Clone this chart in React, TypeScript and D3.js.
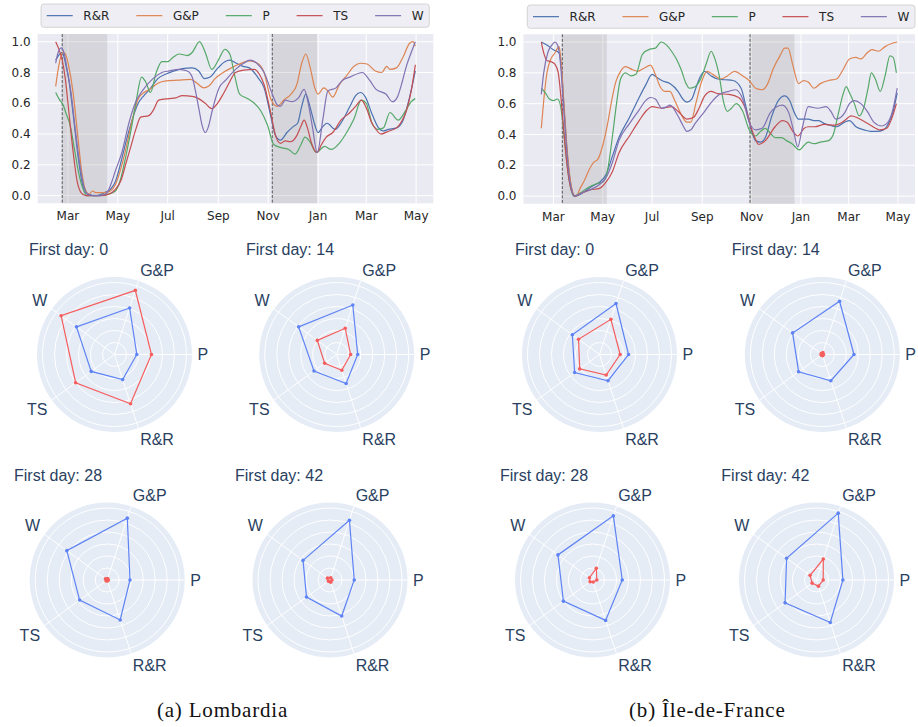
import React from "react";
import * as d3 from "d3";

// day offsets are counted from 1 March 2020
const t0 = new Date(2020, 2, 1);
const series = ["R&R", "G&P", "P", "TS", "W"];
const lineColors = ["#4C72B0", "#DD8452", "#55A868", "#C44E52", "#8172B3"];

type Pt = [number, number];

// ---- Lombardia mobility series ----
const lomRR: Pt[] = [[-15,0.88],[-10,0.92],[-7,0.93],[-3,0.86],[2,0.72],[7,0.5],[12,0.27],[18,0.07],[24,0.01],[35,0.0],[45,0.02],[52,0.04],[58,0.09],[65,0.22],[72,0.37],[79,0.5],[86,0.6],[93,0.65],[100,0.69],[110,0.76],[120,0.79],[130,0.81],[140,0.825],[152,0.83],[160,0.81],[167,0.76],[174,0.77],[182,0.82],[192,0.87],[198,0.88],[206,0.86],[214,0.84],[222,0.83],[232,0.77],[240,0.7],[248,0.52],[254,0.39],[260,0.36],[268,0.41],[276,0.45],[281,0.47],[286,0.58],[291,0.66],[296,0.58],[302,0.46],[306,0.41],[312,0.45],[317,0.47],[327,0.43],[335,0.48],[345,0.58],[352,0.65],[358,0.67],[364,0.64],[372,0.53],[380,0.44],[386,0.42],[392,0.43],[402,0.44],[410,0.49],[418,0.64],[425,0.81]];
const lomGP: Pt[] = [[-15,0.71],[-11,0.85],[-6,0.93],[-3,0.92],[1,0.84],[6,0.68],[11,0.44],[17,0.15],[22,0.03],[26,0.01],[30,0.03],[34,0.02],[45,0.02],[52,0.03],[58,0.07],[65,0.18],[72,0.33],[79,0.5],[86,0.63],[93,0.67],[100,0.69],[110,0.73],[120,0.745],[135,0.75],[150,0.755],[158,0.73],[166,0.7],[172,0.71],[180,0.76],[190,0.8],[200,0.83],[210,0.855],[222,0.875],[232,0.86],[240,0.8],[248,0.63],[256,0.58],[264,0.62],[273,0.66],[280,0.72],[286,0.86],[291,0.92],[296,0.84],[302,0.7],[306,0.66],[313,0.7],[318,0.68],[324,0.64],[332,0.72],[341,0.78],[350,0.84],[358,0.86],[366,0.855],[376,0.81],[384,0.8],[390,0.84],[394,0.82],[402,0.83],[410,0.9],[418,0.99],[422,1.0],[425,0.97]];
const lomP: Pt[] = [[-15,0.67],[-10,0.62],[-6,0.59],[-2,0.53],[3,0.45],[8,0.3],[13,0.15],[18,0.05],[23,0.0],[35,0.0],[50,0.01],[58,0.03],[64,0.1],[71,0.26],[78,0.45],[84,0.63],[90,0.77],[95,0.74],[101,0.67],[108,0.8],[115,0.87],[122,0.87],[129,0.9],[136,0.92],[146,0.91],[152,0.93],[161,1.0],[168,0.93],[176,0.82],[184,0.88],[192,0.95],[198,0.92],[204,0.78],[210,0.66],[220,0.63],[228,0.6],[236,0.55],[244,0.46],[252,0.33],[262,0.31],[270,0.3],[278,0.27],[285,0.33],[290,0.38],[296,0.35],[304,0.28],[314,0.32],[322,0.3],[332,0.34],[341,0.41],[350,0.5],[359,0.62],[365,0.6],[372,0.47],[379,0.43],[386,0.44],[394,0.54],[404,0.49],[413,0.55],[420,0.61],[425,0.63]];
const lomTS: Pt[] = [[-15,1.0],[-11,0.95],[-7,0.88],[-3,0.75],[1,0.55],[6,0.3],[11,0.1],[16,0.02],[22,0.0],[40,0.0],[50,0.01],[58,0.04],[65,0.1],[71,0.21],[77,0.32],[83,0.43],[89,0.51],[99,0.52],[105,0.56],[111,0.62],[124,0.63],[132,0.635],[140,0.65],[152,0.645],[160,0.63],[168,0.6],[176,0.565],[183,0.6],[190,0.66],[197,0.73],[205,0.8],[215,0.815],[228,0.82],[234,0.79],[240,0.72],[248,0.54],[254,0.39],[260,0.34],[266,0.355],[272,0.35],[280,0.39],[285,0.45],[289,0.49],[293,0.44],[298,0.34],[305,0.28],[310,0.33],[316,0.38],[324,0.41],[334,0.49],[345,0.54],[352,0.58],[359,0.62],[365,0.57],[372,0.47],[377,0.43],[383,0.4],[393,0.42],[402,0.44],[408,0.48],[414,0.55],[420,0.68],[425,0.85]];
const lomW: Pt[] = [[-15,0.86],[-12,0.93],[-8,0.96],[-5,0.93],[-1,0.82],[4,0.66],[9,0.43],[14,0.22],[19,0.07],[24,0.01],[30,0.0],[40,0.0],[48,0.02],[53,0.08],[58,0.16],[66,0.28],[75,0.48],[83,0.61],[91,0.68],[104,0.76],[115,0.8],[124,0.81],[136,0.82],[146,0.81],[152,0.77],[156,0.68],[160,0.57],[164,0.46],[168,0.41],[172,0.45],[176,0.54],[185,0.7],[193,0.75],[205,0.82],[215,0.86],[223,0.88],[231,0.86],[240,0.8],[250,0.66],[256,0.59],[260,0.58],[266,0.62],[274,0.61],[282,0.635],[289,0.69],[294,0.6],[299,0.45],[305,0.28],[312,0.5],[318,0.68],[328,0.7],[336,0.75],[345,0.77],[360,0.8],[369,0.75],[377,0.69],[389,0.66],[397,0.61],[403,0.64],[409,0.74],[414,0.84],[420,0.93],[425,1.0]];

// ---- Île-de-France mobility series ----
const idfRR: Pt[] = [[-15,1.0],[-8,0.98],[0,0.95],[7,0.93],[10,0.82],[14,0.5],[18,0.22],[22,0.06],[26,0.0],[33,0.01],[41,0.04],[50,0.07],[57,0.09],[65,0.14],[73,0.26],[81,0.38],[94,0.51],[106,0.64],[114,0.72],[122,0.79],[128,0.77],[134,0.75],[144,0.73],[154,0.68],[160,0.63],[165,0.61],[171,0.63],[176,0.7],[181,0.77],[187,0.81],[195,0.78],[203,0.76],[212,0.755],[222,0.75],[232,0.7],[238,0.58],[244,0.44],[250,0.36],[256,0.35],[262,0.38],[270,0.52],[278,0.62],[286,0.65],[292,0.62],[298,0.54],[303,0.5],[315,0.5],[322,0.49],[328,0.49],[335,0.47],[342,0.46],[350,0.45],[360,0.48],[366,0.49],[374,0.45],[384,0.43],[392,0.42],[400,0.42],[408,0.43],[414,0.47],[420,0.55],[425,0.67]];
const idfGP: Pt[] = [[-15,0.44],[-12,0.62],[-8,0.8],[-4,0.88],[2,0.93],[7,0.97],[9,0.9],[13,0.6],[17,0.3],[21,0.1],[25,0.01],[28,0.0],[33,0.05],[39,0.11],[44,0.17],[50,0.22],[55,0.24],[61,0.33],[67,0.47],[72,0.62],[77,0.74],[83,0.81],[89,0.84],[98,0.82],[104,0.81],[112,0.83],[120,0.85],[126,0.79],[132,0.71],[138,0.68],[144,0.68],[150,0.62],[158,0.53],[165,0.48],[170,0.48],[176,0.6],[183,0.74],[190,0.81],[197,0.79],[207,0.76],[215,0.78],[224,0.81],[234,0.78],[242,0.75],[250,0.7],[258,0.69],[264,0.72],[272,0.83],[280,0.91],[286,0.96],[290,0.96],[296,0.85],[303,0.73],[309,0.75],[315,0.74],[322,0.7],[330,0.73],[340,0.75],[350,0.76],[358,0.82],[366,0.89],[374,0.9],[380,0.89],[388,0.93],[394,0.95],[402,0.94],[410,0.97],[418,0.99],[425,1.0]];
const idfP: Pt[] = [[-15,0.7],[-10,0.67],[-5,0.63],[0,0.62],[5,0.63],[9,0.58],[13,0.4],[17,0.2],[21,0.06],[25,0.0],[33,0.02],[41,0.05],[53,0.08],[61,0.09],[67,0.17],[73,0.39],[78,0.6],[83,0.76],[89,0.8],[96,0.78],[102,0.79],[110,0.92],[120,0.955],[126,0.96],[133,1.0],[140,0.98],[146,0.94],[152,0.89],[158,0.82],[164,0.73],[168,0.7],[175,0.71],[182,0.76],[189,0.86],[195,0.94],[199,0.9],[205,0.78],[210,0.62],[215,0.55],[220,0.57],[226,0.6],[234,0.55],[242,0.43],[250,0.39],[256,0.42],[262,0.44],[268,0.41],[274,0.38],[282,0.38],[288,0.36],[295,0.34],[304,0.3],[310,0.33],[315,0.35],[322,0.34],[330,0.35],[340,0.36],[346,0.4],[352,0.53],[358,0.66],[362,0.71],[366,0.67],[372,0.6],[378,0.52],[384,0.58],[389,0.7],[393,0.8],[398,0.76],[404,0.68],[410,0.78],[416,0.91],[420,0.9],[424,0.8]];
const idfTS: Pt[] = [[-15,1.0],[-12,0.93],[-8,0.88],[-2,0.87],[2,0.855],[6,0.8],[10,0.6],[14,0.35],[18,0.15],[22,0.04],[27,0.0],[35,0.02],[45,0.04],[57,0.05],[65,0.09],[73,0.16],[81,0.28],[94,0.39],[106,0.49],[116,0.56],[122,0.58],[134,0.57],[146,0.58],[154,0.55],[165,0.5],[173,0.51],[180,0.57],[187,0.65],[195,0.68],[203,0.665],[217,0.66],[229,0.64],[238,0.56],[246,0.42],[254,0.335],[262,0.36],[274,0.45],[283,0.49],[289,0.48],[296,0.42],[302,0.39],[310,0.44],[315,0.45],[323,0.45],[335,0.465],[347,0.46],[360,0.49],[368,0.52],[375,0.51],[382,0.49],[392,0.46],[404,0.43],[412,0.44],[418,0.5],[424,0.6]];
const idfW: Pt[] = [[-15,0.66],[-12,0.8],[-7,0.93],[-2,0.98],[2,1.0],[5,0.98],[8,0.9],[11,0.7],[15,0.4],[19,0.15],[23,0.03],[26,0.0],[35,0.02],[45,0.04],[57,0.075],[65,0.12],[73,0.22],[81,0.36],[94,0.47],[106,0.56],[114,0.62],[120,0.64],[126,0.63],[134,0.57],[140,0.58],[144,0.59],[154,0.52],[160,0.46],[165,0.42],[170,0.43],[175,0.47],[187,0.55],[197,0.62],[205,0.66],[217,0.68],[225,0.69],[234,0.63],[242,0.48],[250,0.43],[258,0.44],[268,0.54],[276,0.58],[283,0.59],[291,0.54],[297,0.42],[302,0.32],[308,0.45],[315,0.58],[327,0.57],[337,0.58],[343,0.55],[349,0.5],[355,0.51],[360,0.54],[366,0.6],[372,0.62],[380,0.6],[388,0.55],[396,0.48],[406,0.455],[412,0.47],[418,0.53],[425,0.7]];

// lockdown periods (start day, end day); a dashed line marks each start
const lomSpans: Pt[] = [[-7, 48], [250, 305]];
const idfSpans: Pt[] = [[11, 66], [243, 298]];

const yTicks = [0, 0.2, 0.4, 0.6, 0.8, 1.0];

// ---- radar charts ----
const radarAxes = ["P", "G&P", "W", "TS", "R&R"];
const radarDays = [0, 14, 28, 42];
const radarRings = [0.05, 0.1, 0.15, 0.2, 0.25, 0.3];
const radarMax = 0.323;
const lomBlue = [
  [0.093, 0.204, 0.196, 0.12, 0.11],
  [0.0875, 0.217, 0.196, 0.117, 0.127],
  [0.095, 0.271, 0.208, 0.142, 0.175],
  [0.101, 0.262, 0.139, 0.121, 0.158],
];
const lomRed = [
  [0.154, 0.281, 0.275, 0.2, 0.216],
  [0.058, 0.115, 0.1, 0.062, 0.069],
  [0.005, 0.006, 0.009, 0.006, 0.004],
  [0.008, 0.01, 0.013, 0.008, 0.01],
];
const idfBlue = [
  [0.121, 0.223, 0.14, 0.128, 0.115],
  [0.132, 0.233, 0.153, 0.122, 0.115],
  [0.124, 0.281, 0.178, 0.15, 0.177],
  [0.11, 0.293, 0.154, 0.162, 0.186],
];
const idfRed = [
  [0.086, 0.154, 0.108, 0.102, 0.09],
  [0.005, 0.008, 0.006, 0.005, 0.005],
  [0.018, 0.051, 0.016, 0.0125, 0.009],
  [0.028, 0.092, 0.033, 0.0225, 0.027],
];

const day = (d: number) => d3.timeDay.offset(t0, d);

const sansFont = "'DejaVu Sans', sans-serif";
const plotlyFont = "'Liberation Sans', Arial, sans-serif";

let ctx: CanvasRenderingContext2D | null = null;
function textWidth(s: string, font: string) {
  if (!ctx) ctx = document.createElement("canvas").getContext("2d");
  if (!ctx) return s.length * 7;
  ctx.font = font;
  return ctx.measureText(s).width;
}

function LineChart({ x0, x1, y0, y1, lines, spans, legend }: any) {
  const allDays = lines.flat().map((p: Pt) => p[0]);
  const [dMin, dMax] = d3.extent(allDays) as [number, number];
  const pad = (dMax - dMin) * 0.05;
  const x = d3.scaleTime().domain([day(dMin - pad), day(dMax + pad)]).range([x0, x1]);
  const y = d3.scaleLinear().domain([-0.05, 1.05]).range([y1, y0]);
  const xTicks = x.ticks(d3.timeMonth.every(2) as any);
  const fmt = d3.timeFormat("%b");
  const line = d3.line<Pt>()
    .x(p => x(day(p[0])))
    .y(p => y(p[1]))
    .curve(d3.curveMonotoneX);

  // legend in "expand" mode
  const handle = 26, gapText = 10.6, inset = 5.7;
  const widths = series.map(s => handle + gapText + textWidth(s, `12px ${sansFont}`));
  const lw = legend.x1 - legend.x0;
  const sep = (lw - 2 * inset - d3.sum(widths)) / (series.length - 1);
  let cursor = legend.x0 + inset;
  const starts = widths.map(w => { const s = cursor; cursor += w + sep; return s; });
  const ly = (legend.y0 + legend.y1) / 2;

  return (
    <g>
      <rect x={x0} y={y0} width={x1 - x0} height={y1 - y0} fill="#EAEAF2" />
      {yTicks.map(t => (
        <line key={"gy" + t} x1={x0} x2={x1} y1={y(t)} y2={y(t)} stroke="#fff" strokeWidth={1} />
      ))}
      {xTicks.map((t, i) => (
        <line key={"gx" + i} x1={x(t)} x2={x(t)} y1={y0} y2={y1} stroke="#fff" strokeWidth={1} />
      ))}
      {spans.map((s: Pt, i: number) => (
        <g key={"sp" + i}>
          <rect x={x(day(s[0]))} y={y0} width={x(day(s[1])) - x(day(s[0]))} height={y1 - y0} fill="#808080" fillOpacity={0.2} />
          <line x1={x(day(s[0]))} x2={x(day(s[0]))} y1={y0} y2={y1} stroke="#333" strokeWidth={0.8} strokeDasharray="3,1.6" />
        </g>
      ))}
      {lines.map((l: Pt[], i: number) => (
        <path key={"l" + i} d={line(l) || ""} fill="none" stroke={lineColors[i]} strokeWidth={1.2} />
      ))}
      {yTicks.map(t => (
        <text key={"ty" + t} x={x0 - 7} y={y(t)} dy="0.35em" textAnchor="end" fontSize={12} fill="#262626" fontFamily={sansFont}>
          {t.toFixed(1)}
        </text>
      ))}
      {xTicks.map((t, i) => (
        <text key={"tx" + i} x={x(t)} y={y1 + 17} textAnchor="middle" fontSize={12} fill="#262626" fontFamily={sansFont}>
          {fmt(t)}
        </text>
      ))}
      <rect x={legend.x0} y={legend.y0} width={lw} height={legend.y1 - legend.y0} rx={3}
        fill="#EEEEF4" stroke="#CCCCCC" strokeWidth={0.8} />
      {series.map((s, i) => (
        <g key={"lg" + s}>
          <line x1={starts[i]} x2={starts[i] + handle} y1={ly} y2={ly} stroke={lineColors[i]} strokeWidth={1.2} />
          <text x={starts[i] + handle + gapText} y={ly} dy="0.36em" fontSize={12} fill="#262626" fontFamily={sansFont}>{s}</text>
        </g>
      ))}
    </g>
  );
}

function Radar({ cx, cy, titleX, dayNo, blue, red }: any) {
  const R = 77.5;
  const r = d3.scaleLinear().domain([0, radarMax]).range([0, R]);
  const theta = (i: number) => (i * 2 * Math.PI) / radarAxes.length;
  const poly = d3.lineRadial<number>()
    .angle((_, i) => Math.PI / 2 - theta(i))
    .radius(v => r(v))
    .curve(d3.curveLinearClosed);
  const pt = (v: number, i: number) => [r(v) * Math.cos(theta(i)), -r(v) * Math.sin(theta(i))];
  const trace = (vals: number[], color: string) => (
    <g>
      <path d={poly(vals) || ""} fill="none" stroke={color} strokeWidth={1.2} />
      {vals.map((v, i) => {
        const [px, py] = pt(v, i);
        return <circle key={i} cx={px} cy={py} r={1.8} fill={color} />;
      })}
    </g>
  );
  return (
    <g>
      <text x={titleX} y={cy - 99.5} fontSize={16} fill="#2a3f5f" fontFamily={plotlyFont}>{`First day: ${dayNo}`}</text>
      <g transform={`translate(${cx},${cy})`}>
        <circle r={R} fill="#E5ECF6" />
        {radarRings.map(t => (
          <circle key={t} r={r(t)} fill="none" stroke="#fff" strokeWidth={1} />
        ))}
        {radarAxes.map((a, i) => (
          <line key={a} x1={0} y1={0} x2={R * Math.cos(theta(i))} y2={-R * Math.sin(theta(i))} stroke="#fff" strokeWidth={1} />
        ))}
        {radarAxes.map((a, i) => {
          const c = Math.cos(theta(i)), s = Math.sin(theta(i));
          const anchor = c > 0.25 ? "start" : c < -0.25 ? "end" : "middle";
          const dy = s > 0.3 ? "0em" : s < -0.3 ? "0.75em" : "0.36em";
          return (
            <text key={"lab" + a} x={(R + 5.5) * c} y={-(R + 5.5) * s} dy={dy} textAnchor={anchor}
              fontSize={16} fill="#2a3f5f" fontFamily={plotlyFont}>{a}</text>
          );
        })}
        {trace(blue, "#5F83F5")}
        {trace(red, "#F65E5E")}
      </g>
    </g>
  );
}

const lomCenters = [[114.5, 354.5, 29], [336.7, 354.5, 246], [107.2, 580, 14], [330, 580, 235]];
const idfCenters = [[599.5, 354.5, 515], [822.3, 354.5, 731.7], [592.5, 580, 500], [816.5, 580, 721.3]];

export default function App() {
  return (
    <svg width={918} height={727} style={{ position: "absolute", left: 0, top: 0, background: "#fff" }}>
      <LineChart x0={37.7} x1={433.3} y0={34} y1={203.3}
        lines={[lomRR, lomGP, lomP, lomTS, lomW]} spans={lomSpans}
        legend={{ x0: 41, x1: 429.3, y0: 4, y1: 27.3 }} />
      <LineChart x0={523.5} x1={915} y0={34.3} y1={203.8}
        lines={[idfRR, idfGP, idfP, idfTS, idfW]} spans={idfSpans}
        legend={{ x0: 527.3, x1: 915, y0: 5, y1: 28.3 }} />
      {radarDays.map((d, i) => (
        <Radar key={"lom" + d} cx={lomCenters[i][0]} cy={lomCenters[i][1]} titleX={lomCenters[i][2]}
          dayNo={d} blue={lomBlue[i]} red={lomRed[i]} />
      ))}
      {radarDays.map((d, i) => (
        <Radar key={"idf" + d} cx={idfCenters[i][0]} cy={idfCenters[i][1]} titleX={idfCenters[i][2]}
          dayNo={d} blue={idfBlue[i]} red={idfRed[i]} />
      ))}
      <text x={222.5} y={717} textAnchor="middle" fontSize={21} letterSpacing={0.8} fill="#111"
        fontFamily="'Liberation Serif', serif">(a) Lombardia</text>
      <text x={707.3} y={717} textAnchor="middle" fontSize={21} letterSpacing={0.8} fill="#111"
        fontFamily="'Liberation Serif', serif">(b) Île-de-France</text>
    </svg>
  );
}
